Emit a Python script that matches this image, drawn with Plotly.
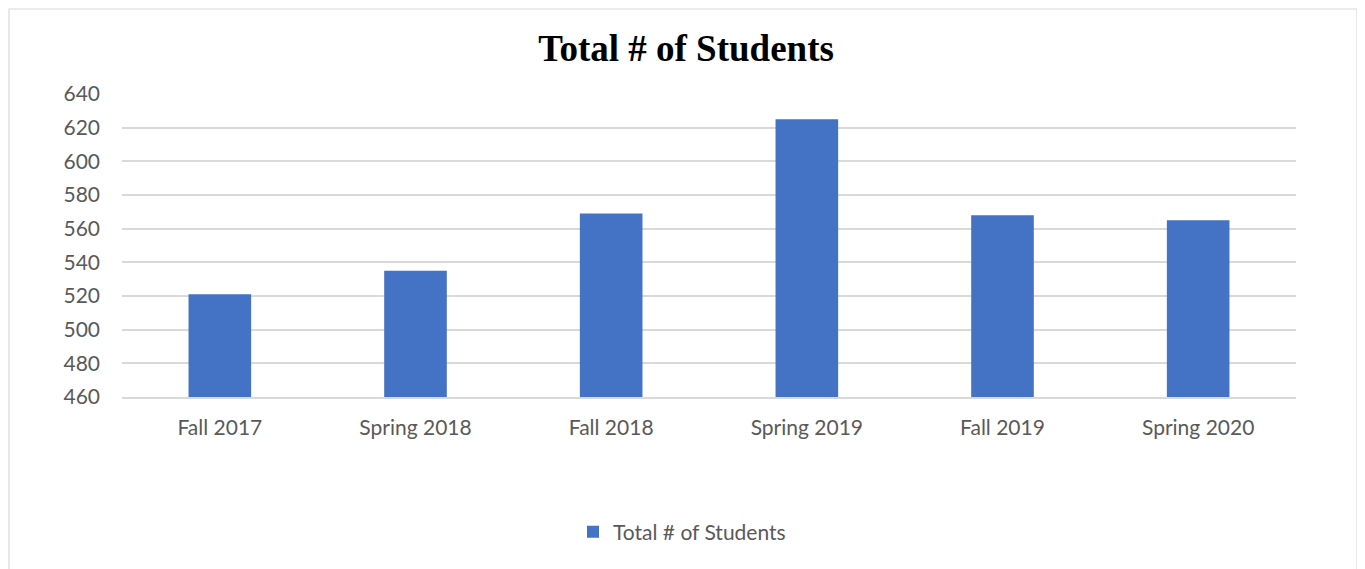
import plotly.graph_objects as go

terms = ["Fall 2017", "Spring 2018", "Fall 2018", "Spring 2019", "Fall 2019", "Spring 2020"]
students = [521, 535, 569, 625, 568, 565]
y_ticks = [460, 480, 500, 520, 540, 560, 580, 600, 620, 640]

BAR = "#4472C4"
GRID = "#D9D9D9"
TXT = "#595959"
FONT = "Lato, 'Noto Sans', sans-serif"

# page body adds an 8px margin, so size the figure to land on screen coords
OFF = 8
W, H = 1365 - OFF, 569 - OFF
PX0, PX1, PY0, PY1 = 122, 1296, 94, 397   # plot area on screen
L, T = PX0 - OFF, PY0 - OFF
R, B = OFF + W - PX1, OFF + H - PY1
pw, ph = PX1 - PX0, PY1 - PY0


def px(x):
    return (x - PX0) / pw


def py(y):
    return (PY1 - y) / ph


fig = go.Figure(
    go.Bar(
        x=terms, y=students, name="Total # of Students",
        marker=dict(color=BAR, line=dict(width=0)),
    )
)

# light chart-area border like the spreadsheet export
fig.add_shape(
    type="rect", xref="paper", yref="paper",
    x0=px(9), x1=px(1357), y0=py(640), y1=py(9),
    line=dict(color=GRID, width=1.2), layer="below",
)

fig.update_layout(
    width=W, height=H,
    margin=dict(l=L, r=R, t=T, b=B),
    paper_bgcolor="white", plot_bgcolor="white",
    bargap=0.68,
    title=dict(
        text="<b>Total # of Students</b>",
        font=dict(family="'Liberation Serif', 'Times New Roman', serif", size=37, color="black"),
        x=(686 - OFF) / W, xanchor="center", y=1 - (48 - OFF) / H, yanchor="middle",
    ),
    showlegend=True,
    legend=dict(
        orientation="h", x=px(682), xanchor="center",
        y=py(532), yanchor="middle", bgcolor="rgba(0,0,0,0)",
        font=dict(family=FONT, size=21, color=TXT),
        itemwidth=30,
    ),
    font=dict(family=FONT, size=21, color=TXT),
)
fig.update_yaxes(
    range=[460, 640], tickvals=y_ticks, showgrid=True, gridcolor=GRID, gridwidth=1.5,
    zeroline=False, showline=False, ticks="", ticklabelstandoff=21,
    tickfont=dict(family=FONT, size=21, color=TXT),
)
fig.update_xaxes(
    showline=True, linecolor=GRID, linewidth=1.5, ticks="", ticklabelstandoff=11,
    tickfont=dict(family=FONT, size=21, color=TXT),
)

fig.write_html("out.html")
